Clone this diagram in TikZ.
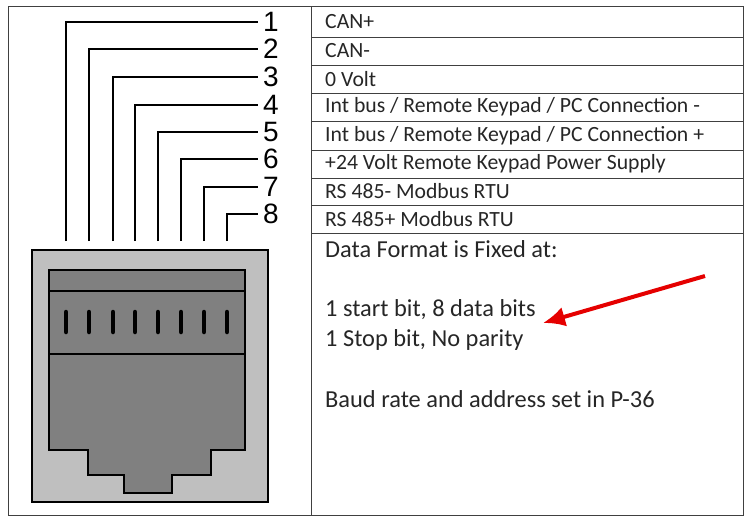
\documentclass[tikz,border=0pt]{standalone}
\usepackage{fontspec}
\usetikzlibrary{arrows.meta}
\setmainfont{Carlito}
\newfontfamily\numfont{Liberation Sans}
\begin{document}
\begin{tikzpicture}[x=1pt,y=-1pt,
  wire/.style={line width=2pt},
  num/.style={anchor=west,inner sep=0pt,font=\numfont\fontsize{28}{28}\selectfont},
  row/.style={anchor=west,inner sep=0pt,font=\fontsize{21.7}{21.7}\selectfont,text=black!85},
  big/.style={anchor=west,inner sep=0pt,font=\fontsize{24.4}{24.4}\selectfont,text=black!85},
  grid/.style={line width=1pt,draw=black!75}]
\useasboundingbox (0,0) rectangle (748,522);
% table
\draw[grid] (8,6) rectangle (743,515);
\draw[grid] (311,6) -- (311,515);
\foreach \y in {37,65,93,121,150,178,205,233} \draw[grid] (311,\y) -- (743,\y);
% row texts
\foreach \t [count=\i] in {CAN+,CAN-,0 Volt,Int bus / Remote Keypad / PC Connection -,Int bus / Remote Keypad / PC Connection +,+24 Volt Remote Keypad Power Supply,RS 485- Modbus RTU,RS 485+ Modbus RTU}{
  \pgfmathsetmacro{\yy}{{6,37,65,93,121,150,178,205,233}[\i-1]/2+{6,37,65,93,121,150,178,205,233}[\i]/2}
  \node[row] (r\i) at (325,\yy) {\t};
}
\node[big] (d1) at (325,249) {Data Format is Fixed at:};
\node[big] (d2) at (325,310) {1 start bit, 8 data bits};
\node[big] (d3) at (325,340) {1 Stop bit, No parity};
\node[big] (d4) at (325,399) {Baud rate and address set in P-36};
% arrow
\coordinate (as) at (705,276);
\coordinate (ae) at (543,323);
\draw[red!90!black,line width=4pt,-{Latex[length=22pt,width=20pt]}] (as) -- (ae);
% wires
\foreach \x/\y [count=\i] in {66/22,89/49,113/77,135/105,158/132,181/159,204/187,227/214}{
  \draw[wire] (\x,241) -- (\x,\y) -- (258,\y);
  \node[num] (n\i) at (263,\y) {\i};
}
% connector
\draw[line width=2.5pt,fill=black!25] (32,250) rectangle (268,502);
\draw[line width=2.5pt,fill=black!50] (49,270) -- (245,270) -- (245,450) -- (211,450) -- (211,475) -- (172,475) -- (172,493) -- (124,493) -- (124,475) -- (88,475) -- (88,450) -- (49,450) -- cycle;
\draw[line width=2.5pt] (49,291) -- (245,291);
\draw[line width=2.5pt] (49,354) -- (245,354);
\foreach \x in {66,89,113,135,158,181,204,227}
  \draw[line width=4.5pt,line cap=round] (\x,312) -- (\x,332);
\end{tikzpicture}
\end{document}
